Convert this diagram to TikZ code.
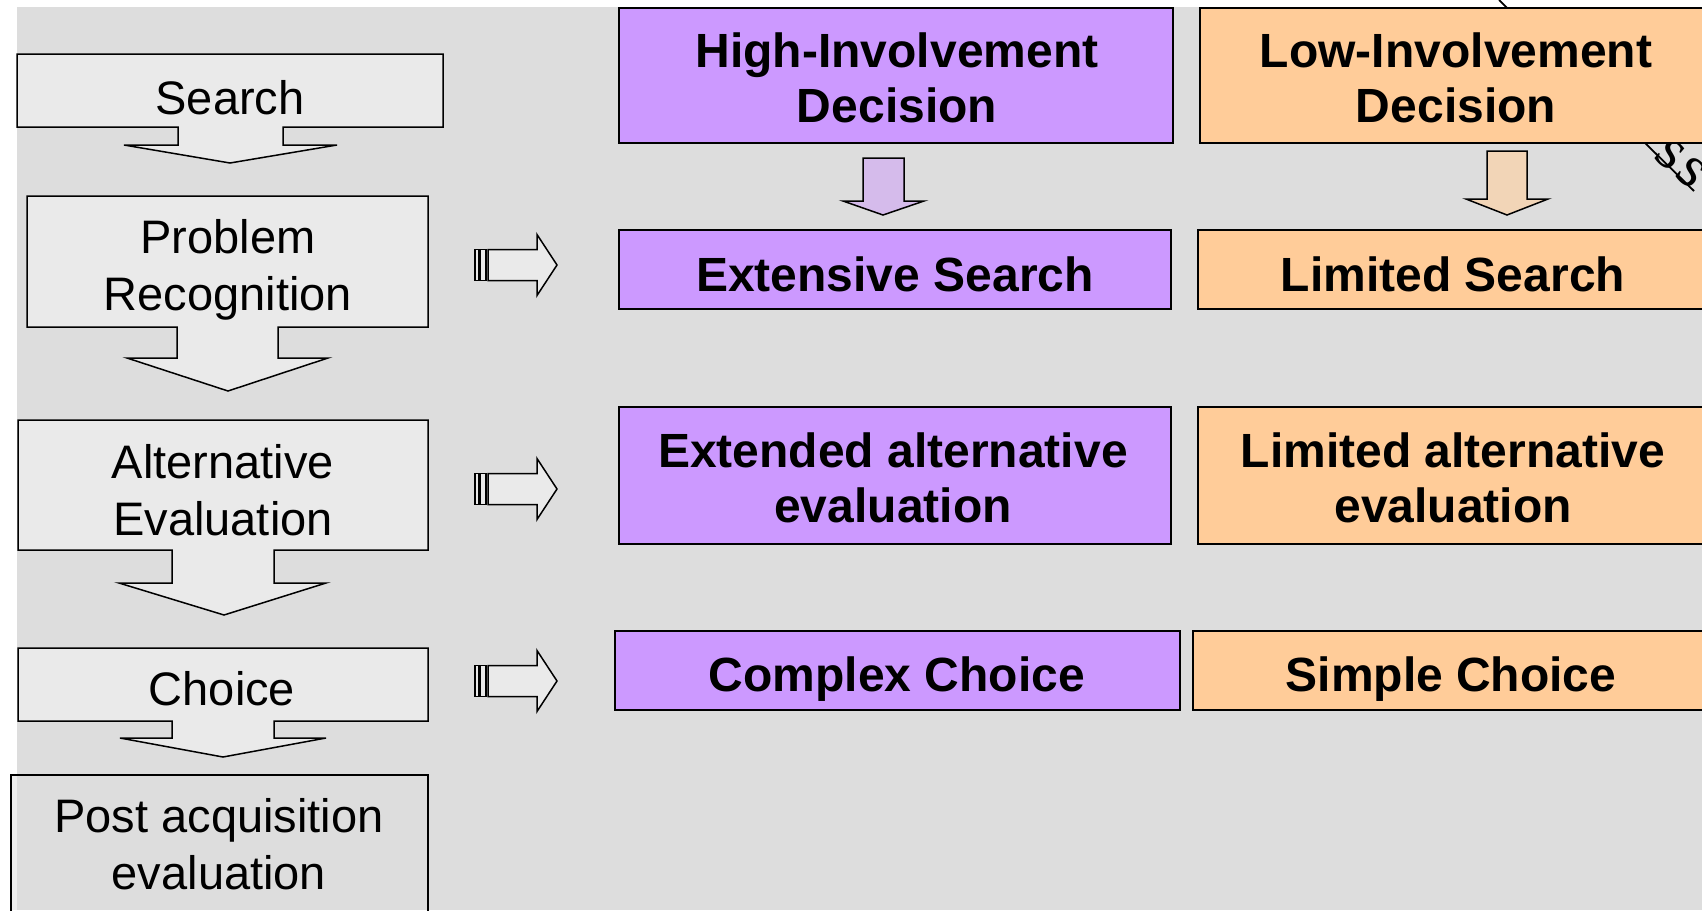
\documentclass[tikz,border=0pt]{standalone}
\usepackage{fontspec}
\setmainfont{Liberation Sans}
\newfontfamily\serifface{Liberation Serif}
\definecolor{pagebg}{HTML}{DDDDDD}
\definecolor{stagefill}{HTML}{EAEAEA}
\definecolor{edgefill}{HTML}{EEEEEE}
\definecolor{hifill}{HTML}{CC99FF}
\definecolor{lofill}{HTML}{FFCC99}
\definecolor{hiarrow}{HTML}{D5BBEB}
\definecolor{loarrow}{HTML}{F2D5B7}
% two or more centred lines, baseline at the first line
\newcommand\linestack[1]{\begin{tabular}[t]{@{}c@{}}#1\end{tabular}}
\begin{document}
\begin{tikzpicture}[x=1pt,y=-1pt,
  stageline/.style={draw=black, line width=1.5pt, line join=miter},
  stagebox/.style={stageline, fill=stagefill},
  stagetext/.style={anchor=base, inner sep=0pt, font=\fontsize{47}{57}\selectfont},
  optbox/.style={draw=black, line width=2pt, inner sep=0pt},
  hibox/.style={optbox, fill=hifill},
  lobox/.style={optbox, fill=lofill},
  opttext/.style={anchor=base, inner sep=0pt, font=\bfseries\fontsize{48}{55.5}\selectfont},
  striped arrow/.pic={
    \draw[stagebox] (0,-15.5) rectangle (4,15.5);
    \draw[stagebox] (5,-15.5) rectangle (11,15.5);
    \draw[stagebox] (13,-15.5) -- (62,-15.5) -- (62,-30.5) -- (82,0)
      -- (62,30.5) -- (62,15.5) -- (13,15.5) -- cycle;
  }]
\useasboundingbox (0,0) rectangle (1702,910);
\clip (0,0) rectangle (1702,910);

% slide background
\fill[pagebg] (17,7) rectangle (1702,910);

% rotated label partly hidden behind the low-involvement column
\draw[line width=1.8pt] (1499,0) -- (1694,191);
\node[rotate=-40, anchor=base west, inner sep=0pt,
      font=\serifface\fontsize{60}{60}\selectfont] (tilted) at (1652,157) {s\kern5pt s};

% ---- decision stages (left column) ----
\draw[stagebox] (17,54) -- (443,54) -- (443,127) -- (283,127) -- (283,145)
  -- (337,145) -- (230,163) -- (124,145) -- (178,145) -- (178,127)
  -- (17,127) -- cycle;
\node[stagetext] (search) at (230,114) {Search};

\draw[stagebox] (27,196) -- (428,196) -- (428,327) -- (278,327) -- (278,358)
  -- (328,358) -- (228,391) -- (127,358) -- (177,358) -- (177,327)
  -- (27,327) -- cycle;
\node[stagetext] (problem) at (228,253) {\linestack{Problem\\Recognition}};

\draw[stagebox] (18,420) -- (428,420) -- (428,550) -- (274,550) -- (274,583)
  -- (326,583) -- (224,615) -- (119,583) -- (172,583) -- (172,550)
  -- (18,550) -- cycle;
\node[stagetext] (alteval) at (223,478) {\linestack{Alternative\\Evaluation}};

\draw[stagebox] (18,648) -- (428,648) -- (428,721) -- (274,721) -- (274,738)
  -- (326,738) -- (223,757) -- (120,738) -- (172,738) -- (172,721)
  -- (18,721) -- cycle;
\node[stagetext] (choice) at (222,705) {Choice};

\fill[edgefill] (11,775) rectangle (17,910);
\draw[stageline] (11,775) rectangle (428,930);
\node[stagetext] (post) at (219,832) {\linestack{Post acquisition\\evaluation}};

% ---- arrows from the stages to the two columns ----
\pic at (475,265) {striped arrow};
\pic at (475,489) {striped arrow};
\pic at (475,681) {striped arrow};

% ---- high-involvement column ----
\node[hibox, minimum width=554, minimum height=135] (hid) at (896,75.5) {};
\node[opttext] (hidtext) at (897,67) {\linestack{High-Involvement\\Decision}};
\draw[stageline, fill=hiarrow] (863,158) -- (904,158) -- (904,201) -- (924,201)
  -- (883,215) -- (843,201) -- (863,201) -- cycle;
\node[hibox, minimum width=552, minimum height=79] (extsearch) at (895,269.5) {};
\node[opttext] at (895,291) {Extensive Search};
\node[hibox, minimum width=552, minimum height=137] (exteval) at (895,475.5) {};
\node[opttext] at (893,467) {\linestack{Extended alternative\\evaluation}};
\node[hibox, minimum width=565, minimum height=79] (complex) at (897.5,670.5) {};
\node[opttext] at (897,691) {Complex Choice};

% ---- low-involvement column ----
\node[lobox, minimum width=512, minimum height=135] (lid) at (1456,75.5) {};
\node[opttext] (lidtext) at (1456,67) {\linestack{Low-Involvement\\Decision}};
\draw[stageline, fill=loarrow] (1487,151) -- (1527,151) -- (1527,199) -- (1548,199)
  -- (1507,215) -- (1466,199) -- (1487,199) -- cycle;
\node[lobox, minimum width=510, minimum height=79] (limsearch) at (1453,269.5) {};
\node[opttext] at (1453,291) {Limited Search};
\node[lobox, minimum width=510, minimum height=137] (limeval) at (1453,475.5) {};
\node[opttext] at (1453,467) {\linestack{Limited alternative\\evaluation}};
\node[lobox, minimum width=516, minimum height=79] (simple) at (1451,670.5) {};
\node[opttext] at (1451,691) {Simple Choice};
\end{tikzpicture}
\end{document}
